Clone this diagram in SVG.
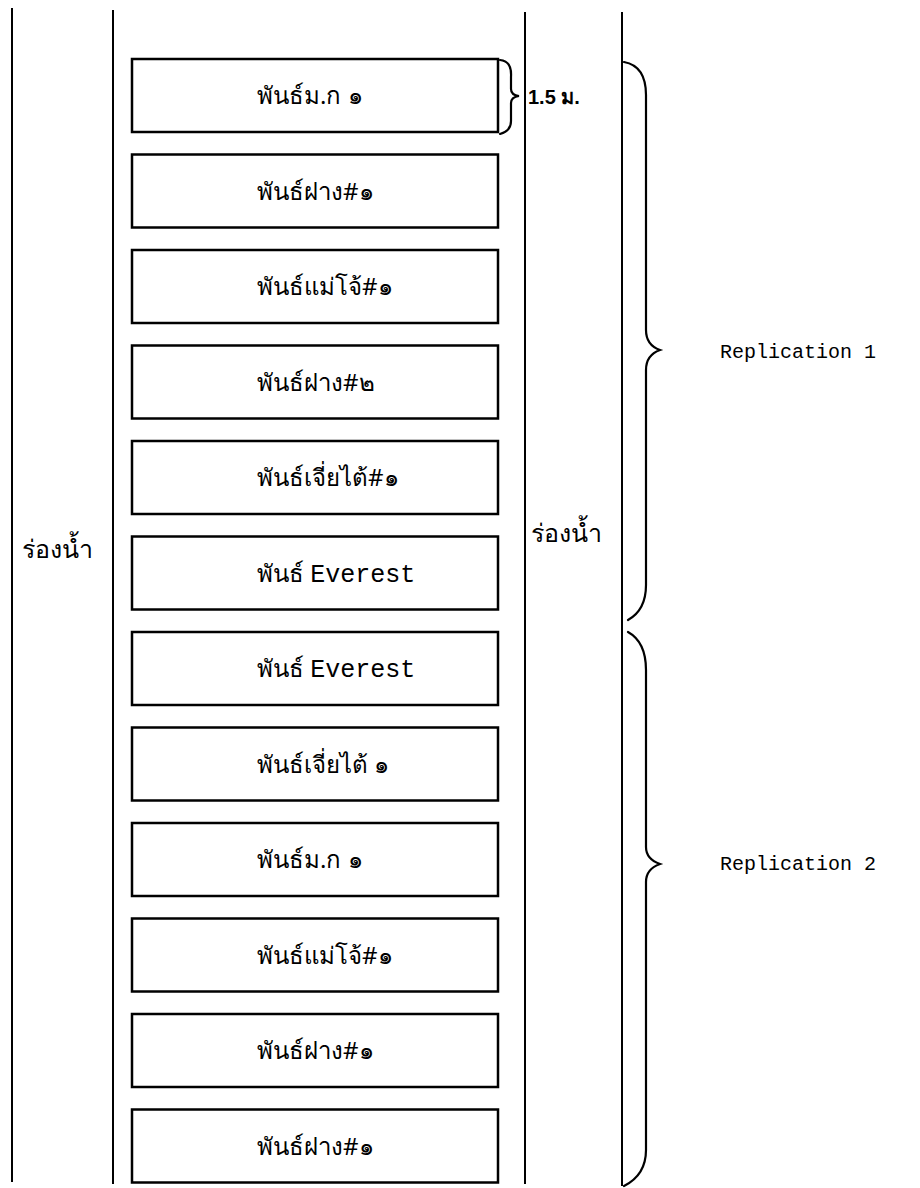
<svg xmlns="http://www.w3.org/2000/svg" width="920" height="1188" viewBox="0 0 920 1188">
<style>
.box{fill:none;stroke:#000;stroke-width:2.5}
.ln{fill:none;stroke:#000;stroke-width:2}
.br{fill:none;stroke:#000;stroke-width:2.2;stroke-linecap:round}
.th{font-family:"Noto Sans","DejaVu Sans",sans-serif;font-size:24px;fill:#000}
.mono{font-family:"Liberation Mono",monospace;font-size:25px}
.lbl{font-family:"Liberation Mono",monospace;font-size:20px;fill:#000}
.ch{font-family:"Noto Sans","DejaVu Sans",sans-serif;font-size:25px;fill:#000}
</style>
<g id="connectors">
<line class="ln" x1="12" y1="8" x2="12" y2="1182"/>
<line class="ln" x1="113" y1="10" x2="113" y2="1184"/>
<line class="ln" x1="525" y1="12" x2="525" y2="1184"/>
<line class="ln" x1="622" y1="12" x2="622" y2="1186"/>
</g>
<g id="box1"><rect class="box" x="132" y="59" width="366" height="73"/><text class="th" x="257" y="104">พันธ์ม.ก ๑</text></g>
<g id="box2"><rect class="box" x="132" y="154.5" width="366" height="73"/><text class="th" x="257" y="199.5">พันธ์ฝาง#๑</text></g>
<g id="box3"><rect class="box" x="132" y="250" width="366" height="73"/><text class="th" x="257" y="295">พันธ์แม่โจ้#๑</text></g>
<g id="box4"><rect class="box" x="132" y="345.5" width="366" height="73"/><text class="th" x="257" y="390.5">พันธ์ฝาง#๒</text></g>
<g id="box5"><rect class="box" x="132" y="441" width="366" height="73"/><text class="th" x="257" y="486">พันธ์เจี่ยไต้#๑</text></g>
<g id="box6"><rect class="box" x="132" y="536.5" width="366" height="73"/><text class="th" x="257" y="581.5">พันธ์ <tspan class="mono">Everest</tspan></text></g>
<g id="box7"><rect class="box" x="132" y="632" width="366" height="73"/><text class="th" x="257" y="677">พันธ์ <tspan class="mono">Everest</tspan></text></g>
<g id="box8"><rect class="box" x="132" y="727.5" width="366" height="73"/><text class="th" x="257" y="772.5">พันธ์เจี่ยไต้ ๑</text></g>
<g id="box9"><rect class="box" x="132" y="823" width="366" height="73"/><text class="th" x="257" y="868">พันธ์ม.ก ๑</text></g>
<g id="box10"><rect class="box" x="132" y="918.5" width="366" height="73"/><text class="th" x="257" y="963.5">พันธ์แม่โจ้#๑</text></g>
<g id="box11"><rect class="box" x="132" y="1014" width="366" height="73"/><text class="th" x="257" y="1059">พันธ์ฝาง#๑</text></g>
<g id="box12"><rect class="box" x="132" y="1109.5" width="366" height="73"/><text class="th" x="257" y="1154.5">พันธ์ฝาง#๑</text></g>
<g id="brace-small">
<path class="br" d="M500,60 Q512,61 511,77 L511,89 Q511,95 519,96 Q511,97 511,103 L511,121 Q511,131 500,134"/>
<text x="528" y="104" style="font-family:'Liberation Sans',sans-serif;font-size:20px;font-weight:bold">1.5 ม.</text>
</g>
<g id="brace-rep1">
<path class="br" d="M624,62 Q646,66 646,95 L646,330 Q646,345 660,350 Q646,355 646,370 L646,585 Q646,610 628,620"/>
<text class="lbl" x="720" y="358">Replication 1</text>
</g>
<g id="brace-rep2">
<path class="br" d="M628,632 Q646,642 646,670 L646,847 Q646,859 660,864 Q646,869 646,882 L646,1150 Q646,1175 624,1186"/>
<text class="lbl" x="720" y="870">Replication 2</text>
</g>
<g id="channel-left"><text class="ch" x="22" y="558">ร่องน้ำ</text></g>
<g id="channel-right"><text class="ch" x="531" y="542">ร่องน้ำ</text></g>
</svg>
